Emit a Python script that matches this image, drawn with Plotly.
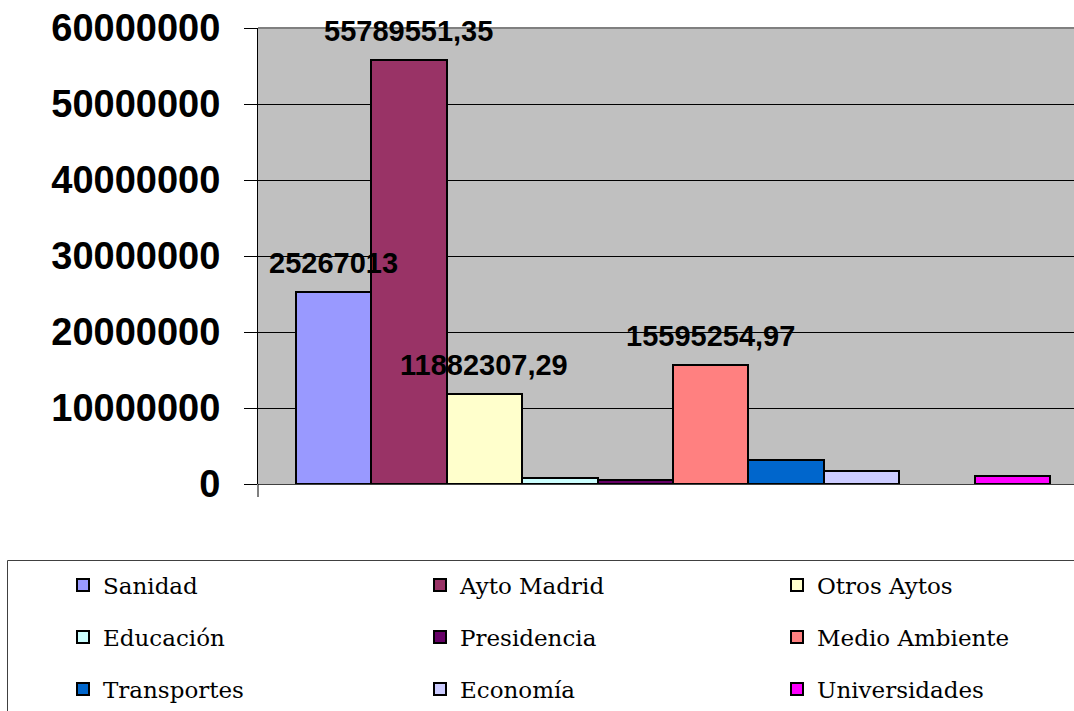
import plotly.graph_objects as go

series = ["Sanidad", "Ayto Madrid", "Otros Aytos", "Educación", "Presidencia",
          "Medio Ambiente", "Transportes", "Economía", "Universidades"]
values = [25267013, 55789551.35, 11882307.29, 800000, 550000,
          15595254.97, 3200000, 1750000, 1050000]
colors = ["#9999FF", "#993366", "#FFFFCC", "#CCFFFF", "#660066",
          "#FF8080", "#0066CC", "#CCCCFF", "#FF00FF"]
labelled = ["Sanidad", "Ayto Madrid", "Otros Aytos", "Medio Ambiente"]
label_text = {"Sanidad": "25267013", "Ayto Madrid": "55789551,35",
              "Otros Aytos": "11882307,29", "Medio Ambiente": "15595254,97"}
# Excel leaves one empty series slot between Economía and Universidades
slots = [0, 1, 2, 3, 4, 5, 6, 7, 9]
yticks = [0, 10000000, 20000000, 30000000, 40000000, 50000000, 60000000]

W, H = 1074, 711
L, T, B = 258, 28, 484
pw, ph = W - L, B - T

def px_x(p):                 # page pixel -> paper x
    return (p - L) / pw

def px_y(p):                 # page pixel -> paper y
    return (B - p) / ph

fig = go.Figure()
legend_names = ["legend"] + ["legend%d" % k for k in range(2, 10)]
for i, (name, v, c) in enumerate(zip(series, values, colors)):
    fig.add_trace(go.Bar(
        x=[slots[i]], y=[v], name=name, width=1,
        marker=dict(color=c, line=dict(color="black", width=2)),
        legend=legend_names[i], showlegend=True,
        hoverinfo="name+y",
    ))

annotations = []
for name in labelled:
    i = series.index(name)
    annotations.append(dict(
        x=slots[i], y=values[i], xref="x", yref="y", text=label_text[name],
        showarrow=False, yanchor="bottom", yshift=11,
        font=dict(family="Liberation Sans", size=29, color="black", weight="bold"),
    ))

col_x = [63, 420, 777]
row_y = [585, 637, 689]
layout_legends = {}
for i, ln in enumerate(legend_names):
    layout_legends[ln] = dict(
        orientation="v", xanchor="left", yanchor="middle",
        x=px_x(col_x[i % 3]), y=px_y(row_y[i // 3]),
        bgcolor="rgba(0,0,0,0)", borderwidth=0,
        font=dict(family="DejaVu Serif", size=23, color="black"),
        itemwidth=30,
    )

fig.update_layout(
    width=W, height=H,
    margin=dict(l=L, r=0, t=T, b=H - B, pad=0),
    paper_bgcolor="white", plot_bgcolor="#C0C0C0",
    bargap=0, barmode="overlay",
    xaxis=dict(range=[-1, -1 + pw / 75.45], showgrid=False, zeroline=False,
               showticklabels=False, ticks="", showline=False, fixedrange=True),
    yaxis=dict(range=[0, 60000000], tickvals=yticks,
               ticktext=[str(t) for t in yticks],
               showgrid=True, gridcolor="black", gridwidth=1,
               zeroline=True, zerolinecolor="#404040", zerolinewidth=1,
               showline=True, linecolor="black", linewidth=1,
               ticks="outside", ticklen=13, tickcolor="black", tickwidth=1,
               ticklabelstandoff=16, ticklabeloverflow="allow",
               tickfont=dict(family="Liberation Sans", size=38, color="black", weight="bold")),
    annotations=annotations,
    shapes=[
        dict(type="line", xref="paper", yref="paper", x0=0, x1=1.2, y0=1, y1=1,
             line=dict(color="#808080", width=2)),
        dict(type="line", xref="paper", yref="paper", x0=0, x1=0, y0=0, y1=px_y(497),
             line=dict(color="black", width=1)),
        dict(type="rect", xref="paper", yref="paper", x0=px_x(7.5), x1=px_x(1200),
             y0=px_y(560.5), y1=px_y(800), line=dict(color="#404040", width=1),
             fillcolor="rgba(0,0,0,0)", layer="below"),
    ],
    **layout_legends,
)

fig.write_html("out.html", config={"displayModeBar": False},
               post_script="document.body.style.margin='0';")
